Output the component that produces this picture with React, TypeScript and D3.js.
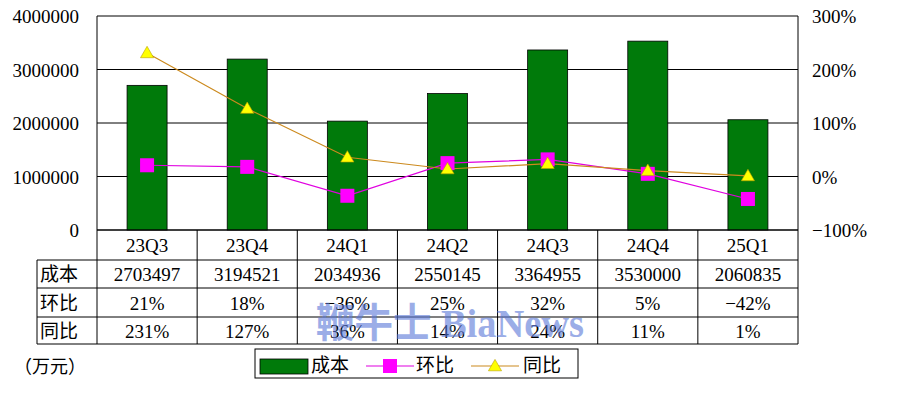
import React from "react";
import * as d3 from "d3";

const categories = ["23Q3", "23Q4", "24Q1", "24Q2", "24Q3", "24Q4", "25Q1"];
const cost = [2703497, 3194521, 2034936, 2550145, 3364955, 3530000, 2060835];
const qoq = [21, 18, -36, 25, 32, 5, -42];
const yoy = [231, 127, 36, 14, 24, 11, 1];
const leftTicks = [0, 1000000, 2000000, 3000000, 4000000];
const rightTicks = [-100, 0, 100, 200, 300];
const rowLabels = ["成本", "环比", "同比"];

const W = 900, H = 398;
const plotL = 97, plotR = 798, plotT = 16, plotB = 230;
const tableL = 37;
const rowYs = [230, 260, 288, 317, 344];
const serif = "'Liberation Serif', 'Noto Sans CJK SC', serif";
const cjk = "'Noto Sans CJK SC', sans-serif";

export default function App() {
  const x = d3.scaleBand<string>().domain(categories).range([plotL, plotR]).paddingInner(0).paddingOuter(0);
  const yL = d3.scaleLinear().domain([0, 4000000]).range([plotB, plotT]);
  const yR = d3.scaleLinear().domain([-100, 300]).range([plotB, plotT]);
  const bw = 40;
  const cx = (c: string) => (x(c) as number) + x.bandwidth() / 2;

  const qoqLine = d3.line<number>().x((_, i) => cx(categories[i])).y((d) => yR(d));
  const yoyLine = d3.line<number>().x((_, i) => cx(categories[i])).y((d) => yR(d));
  const tri = d3.symbol().type(d3.symbolTriangle).size(75)();

  const rows = [cost.map(String), qoq.map((v) => `${v}%`), yoy.map((v) => `${v}%`)];
  const fs = 19;

  return (
    <svg width={W} height={H} style={{ position: "absolute", left: 0, top: 0, background: "#fff" }}>
      <rect x={0} y={0} width={W} height={H} fill="#fff" />
      {/* gridlines */}
      {leftTicks.map((t) => (
        <line key={t} x1={plotL} x2={plotR} y1={yL(t)} y2={yL(t)} stroke="#000" strokeWidth={1} />
      ))}
      <line x1={plotL} x2={plotL} y1={plotT} y2={plotB} stroke="#000" />
      <line x1={plotR} x2={plotR} y1={plotT} y2={plotB} stroke="#000" />
      {/* left axis labels */}
      {leftTicks.map((t) => (
        <text key={t} x={79} y={yL(t) + 7} textAnchor="end" fontFamily={serif} fontSize={fs} fill="#000">
          {t}
        </text>
      ))}
      {/* right axis labels */}
      {rightTicks.map((t) => (
        <text key={t} x={812} y={yR(t) + 7} textAnchor="start" fontFamily={serif} fontSize={fs} fill="#000">
          {t < 0 ? `−${Math.abs(t)}%` : `${t}%`}
        </text>
      ))}
      {/* bars */}
      {cost.map((v, i) => (
        <rect key={i} x={cx(categories[i]) - bw / 2} y={yL(v)} width={bw} height={plotB - yL(v)} fill="#007a0a" stroke="#000" strokeWidth={0.8} />
      ))}
      {/* lines */}
      <path d={qoqLine(qoq) || ""} fill="none" stroke="#e000e0" strokeWidth={1.2} />
      <path d={yoyLine(yoy) || ""} fill="none" stroke="#cc8a1e" strokeWidth={1.2} />
      {qoq.map((v, i) => (
        <rect key={i} x={cx(categories[i]) - 7} y={yR(v) - 7} width={14} height={14} fill="#ff00ff" />
      ))}
      {yoy.map((v, i) => (
        <path key={i} d={tri || ""} transform={`translate(${cx(categories[i])},${yR(v) + 1})`} fill="#ffff00" stroke="#b8a000" strokeWidth={0.6} />
      ))}
      {/* table */}
      <line x1={plotL} x2={plotR} y1={rowYs[0]} y2={rowYs[0]} stroke="#000" />
      {rowYs.slice(1).map((y, i) => (
        <line key={i} x1={tableL} x2={plotR} y1={y} y2={y} stroke="#000" />
      ))}
      <line x1={tableL} x2={tableL} y1={rowYs[1]} y2={rowYs[4]} stroke="#000" />
      {categories.map((c) => (
        <line key={c} x1={x(c) as number} x2={x(c) as number} y1={rowYs[0]} y2={rowYs[4]} stroke="#000" />
      ))}
      <line x1={plotR} x2={plotR} y1={rowYs[0]} y2={rowYs[4]} stroke="#000" />
      {categories.map((c) => (
        <text key={c} x={cx(c)} y={252} textAnchor="middle" fontFamily={serif} fontSize={fs} fill="#000">
          {c}
        </text>
      ))}
      {rowLabels.map((l, r) => (
        <text key={l} x={40} y={(rowYs[r + 1] + rowYs[r + 2]) / 2 + 7} fontFamily={cjk} fontSize={19} fill="#000">
          {l}
        </text>
      ))}
      {rows.map((row, r) =>
        row.map((t, i) => (
          <text key={`${r}-${i}`} x={cx(categories[i])} y={(rowYs[r + 1] + rowYs[r + 2]) / 2 + 7} textAnchor="middle" fontFamily={serif} fontSize={fs} fill="#000">
            {t.replace("-", "−")}
          </text>
        ))
      )}
      {/* watermark */}
      <text x={316} y={337} fontFamily={"'Liberation Serif', 'Noto Sans CJK SC', serif"} fontSize={40} fontWeight="bold" fill="#5a78d8" opacity={0.6} textLength={268} lengthAdjust="spacingAndGlyphs">
        鞭牛士 BiaNews
      </text>
      {/* unit */}
      <text x={14} y={373} fontFamily={cjk} fontSize={18} fill="#000">
        （万元）
      </text>
      {/* legend */}
      <rect x={255} y={349} width={323} height={29} fill="#fff" stroke="#000" />
      <rect x={260} y={359} width={48} height={15} fill="#007a0a" stroke="#000" strokeWidth={0.8} />
      <text x={311} y={372} fontFamily={cjk} fontSize={19} fill="#000">成本</text>
      <line x1={366} x2={414} y1={366} y2={366} stroke="#e000e0" strokeWidth={1.2} />
      <rect x={383} y={359} width={14} height={14} fill="#ff00ff" />
      <text x={416} y={372} fontFamily={cjk} fontSize={19} fill="#000">环比</text>
      <line x1={471} x2={519} y1={366} y2={366} stroke="#cc8a1e" strokeWidth={1.2} />
      <path d={tri || ""} transform={`translate(495,367)`} fill="#ffff00" stroke="#b8a000" strokeWidth={0.6} />
      <text x={523} y={372} fontFamily={cjk} fontSize={19} fill="#000">同比</text>
    </svg>
  );
}
